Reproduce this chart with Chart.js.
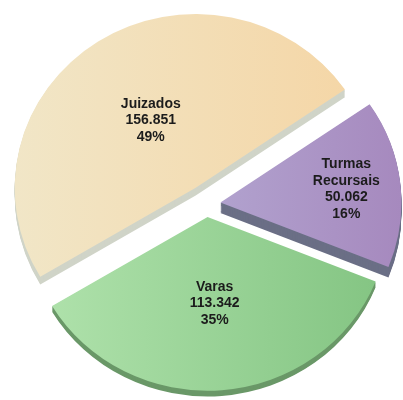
<!DOCTYPE html>
<html lang="pt-BR">
<head>
<meta charset="utf-8">
<title>Distribuição por órgão</title>
<script src="https://cdn.jsdelivr.net/npm/chart.js@4.4.1/dist/chart.umd.min.js"></script>
<style>
  html, body { margin: 0; padding: 0; background: #fff; }
  #area { width: 403px; height: 400px; }
</style>
</head>
<body>
<div id="area"><canvas id="pizza"></canvas></div>
<script>
// Categorias e valores
const categorias = ['Juizados', 'Turmas Recursais', 'Varas'];
const valores = [156851, 50062, 113342];

// Aparência de cada fatia
const coresTopo = [
    ['#f1e6c7', '#f5d5a4'],
    ['#bcbade', '#a689be'],
    ['#b1e3ad', '#83c482']
];
const coresLado = ['#d0d4c8', '#6b6f86', '#6a9868'];
const afastamento = [20, 14, 13.5];   // quanto cada fatia sai do centro (px)
const espessura = [8, 11, 6];         // altura da lateral (px)
const posTexto = [0.46, 0.7, 0.5];    // rótulo, em fração do raio
const achatamento = 0.96;             // inclinação da pizza

const total = valores.reduce((a, b) => a + b, 0);

function milhar(v) {
    return String(v).replace(/\B(?=(\d{3})+(?!\d))/g, '.');
}

// Desenha o arco do Chart.js com outra cor de preenchimento
function desenhaCom(arc, ctx, cor) {
    const original = arc.options;
    arc.options = Object.assign({}, original, { backgroundColor: cor, borderWidth: 0 });
    arc.draw(ctx);
    arc.options = original;
}

// Pizza "3D": fatias destacadas, lateral e rótulos dentro das fatias
const pizza3d = {
    id: 'pizza3d',
    beforeDatasetsDraw(chart) {
        const ctx = chart.ctx;
        const arcs = chart.getDatasetMeta(0).data;
        const cx = arcs[0].x, cy = arcs[0].y;

        ctx.save();
        ctx.translate(cx, cy);
        ctx.scale(1, achatamento);
        ctx.translate(-cx, -cy);

        // laterais
        arcs.forEach((arc, i) => {
            const meio = (arc.startAngle + arc.endAngle) / 2;
            const dx = Math.cos(meio) * afastamento[i];
            const dy = Math.sin(meio) * afastamento[i];
            for (let k = espessura[i]; k >= 1; k--) {
                ctx.save();
                ctx.translate(dx, dy + k);
                desenhaCom(arc, ctx, coresLado[i]);
                ctx.restore();
            }
        });

        // topo com degradê
        arcs.forEach((arc, i) => {
            const meio = (arc.startAngle + arc.endAngle) / 2;
            const dx = Math.cos(meio) * afastamento[i];
            const dy = Math.sin(meio) * afastamento[i];
            const r = arc.outerRadius;
            const grad = ctx.createLinearGradient(arc.x - r, 0, arc.x + r, 0);
            grad.addColorStop(0, coresTopo[i][0]);
            grad.addColorStop(1, coresTopo[i][1]);
            ctx.save();
            ctx.translate(dx, dy);
            desenhaCom(arc, ctx, grad);
            ctx.restore();
        });
        ctx.restore();

        // rótulos
        ctx.save();
        ctx.font = 'bold 14px "Liberation Sans", Arial, sans-serif';
        ctx.fillStyle = '#1c1c1c';
        ctx.textAlign = 'center';
        ctx.textBaseline = 'middle';
        arcs.forEach((arc, i) => {
            const meio = (arc.startAngle + arc.endAngle) / 2;
            const d = afastamento[i] + posTexto[i] * arc.outerRadius;
            const x = arc.x + Math.cos(meio) * d;
            const y = cy + (arc.y + Math.sin(meio) * d - cy) * achatamento;
            const linhas = categorias[i].split(' ').concat([
                milhar(valores[i]),
                Math.round(valores[i] / total * 100) + '%'
            ]);
            const alt = 16.5;
            linhas.forEach((t, j) => {
                ctx.fillText(t, x, y + (j - (linhas.length - 1) / 2) * alt);
            });
        });
        ctx.restore();
        return false;
    }
};

new Chart(document.getElementById('pizza'), {
    type: 'pie',
    data: {
        labels: categorias,
        datasets: [{
            data: valores,
            backgroundColor: coresTopo.map(c => c[1]),
            borderWidth: 0
        }]
    },
    options: {
        responsive: true,
        maintainAspectRatio: false,
        animation: false,
        rotation: 239.2,
        radius: 181,
        layout: { padding: { left: 10, right: 0, top: 8, bottom: 0 } },
        plugins: {
            legend: { display: false },
            tooltip: { enabled: false }
        }
    },
    plugins: [pizza3d]
});
</script>
</body>
</html>
